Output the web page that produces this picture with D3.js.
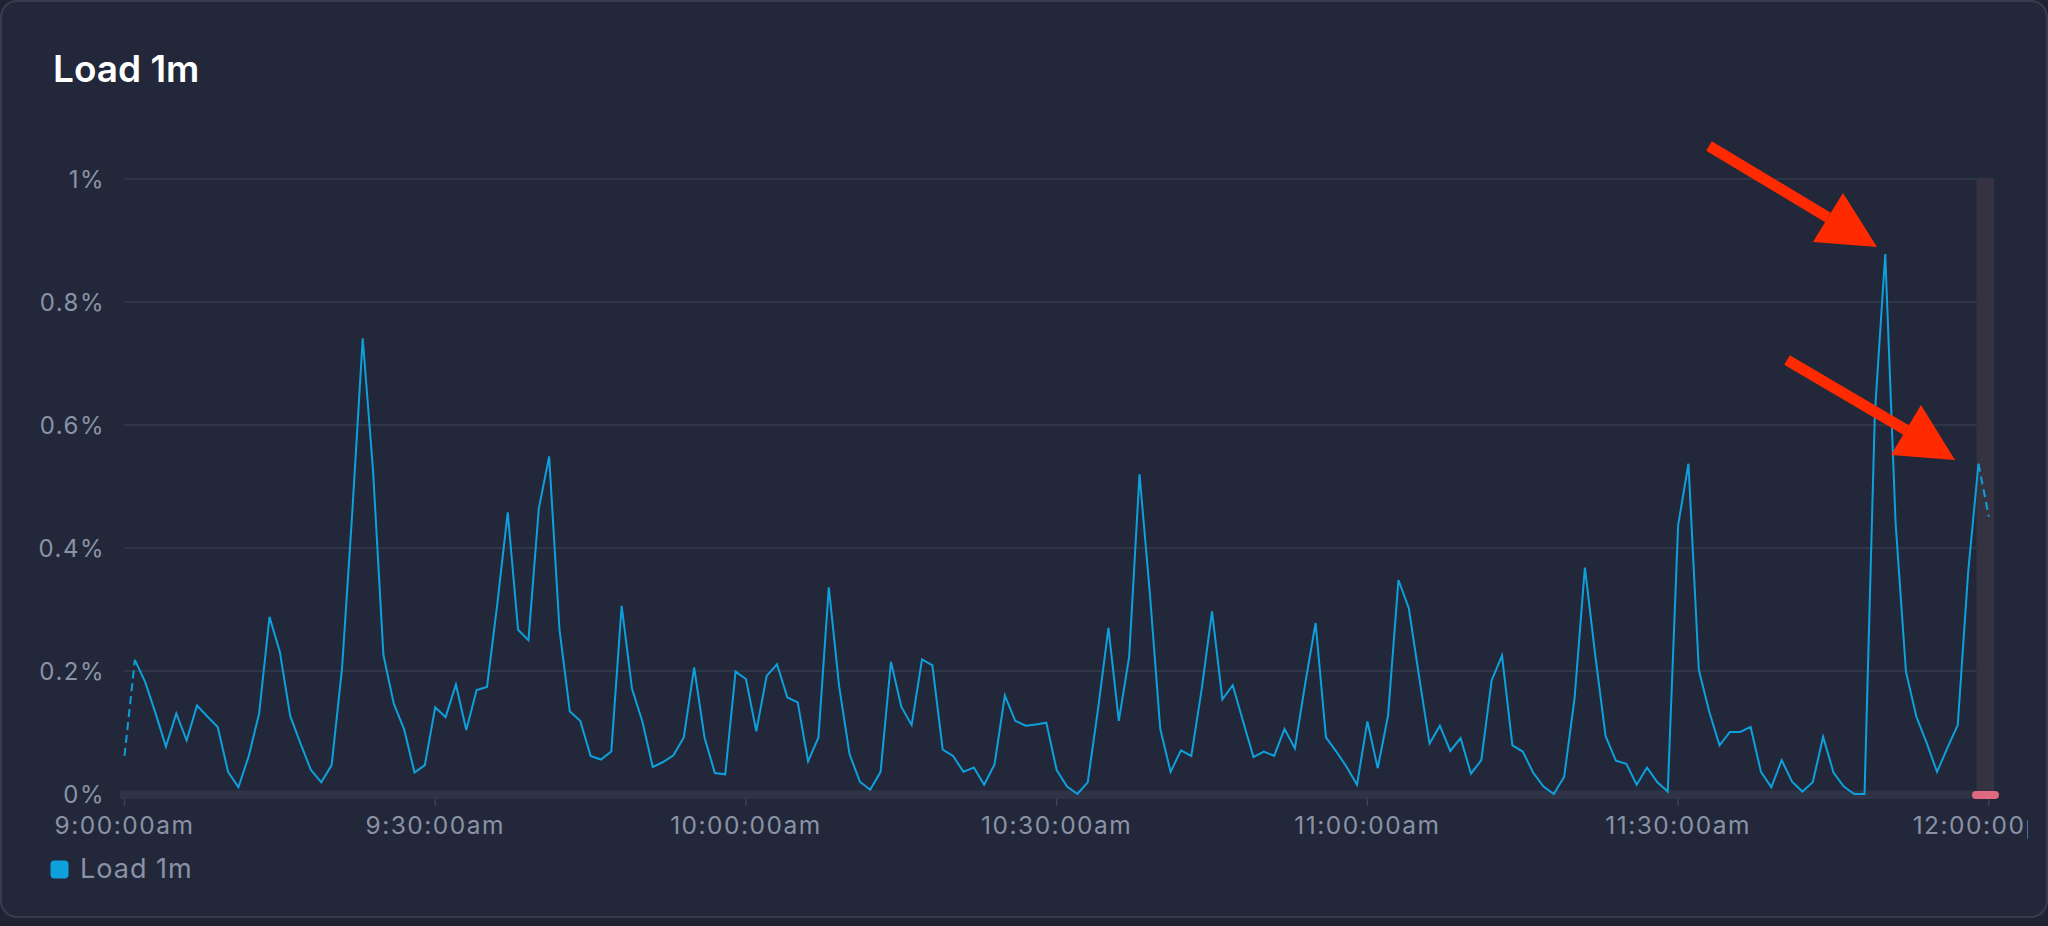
<!DOCTYPE html>
<html>
<head>
<meta charset="utf-8">
<script src="https://cdn.jsdelivr.net/npm/d3@7"></script>
<style>
  html, body { margin: 0; padding: 0; background: #1f2433; }
  svg { display: block; }
  text { font-family: Inter, "Noto Sans", sans-serif; }
</style>
</head>
<body>
<svg id="chart" width="2048" height="926"></svg>
<script>
// ---- Data ----
const title = "Load 1m";
const seriesName = "Load 1m";
const startTime = "09:00";
// Load 1m (%), one sample per minute from 9:01 to 11:59
const loadValues = [
  0.218, 0.182, 0.131, 0.077, 0.131, 0.087, 0.144, 0.126, 0.109, 0.036,
  0.011, 0.062, 0.131, 0.288, 0.231, 0.127, 0.082, 0.039, 0.019, 0.047,
  0.204, 0.46, 0.741, 0.525, 0.226, 0.147, 0.105, 0.035, 0.047, 0.141,
  0.125, 0.178, 0.104, 0.169, 0.174, 0.31, 0.458, 0.267, 0.250, 0.464,
  0.549, 0.267, 0.134, 0.119, 0.062, 0.056, 0.069, 0.306, 0.171, 0.118,
  0.044, 0.052, 0.063, 0.092, 0.206, 0.092, 0.034, 0.032, 0.199, 0.187,
  0.102, 0.192, 0.211, 0.157, 0.149, 0.053, 0.092, 0.336, 0.175, 0.065,
  0.020, 0.007, 0.036, 0.215, 0.142, 0.112, 0.219, 0.209, 0.072, 0.062,
  0.036, 0.043, 0.015, 0.048, 0.160, 0.119, 0.111, 0.113, 0.116, 0.039,
  0.012, 0.000, 0.019, 0.139, 0.270, 0.119, 0.223, 0.520, 0.326, 0.106,
  0.036, 0.071, 0.062, 0.17, 0.297, 0.154, 0.177, 0.118, 0.060, 0.069,
  0.062, 0.106, 0.074, 0.18, 0.278, 0.092, 0.069, 0.044, 0.015, 0.118,
  0.042, 0.128, 0.348, 0.302, 0.19, 0.082, 0.111, 0.070, 0.091, 0.033,
  0.055, 0.185, 0.225, 0.079, 0.069, 0.035, 0.012, 0.000, 0.028, 0.155,
  0.368, 0.226, 0.094, 0.054, 0.049, 0.015, 0.043, 0.019, 0.004, 0.437,
  0.537, 0.202, 0.134, 0.079, 0.101, 0.101, 0.109, 0.036, 0.011, 0.055,
  0.020, 0.004, 0.019, 0.093, 0.035, 0.012, 0.000, 0.000, 0.62, 0.878,
  0.44, 0.199, 0.126, 0.083, 0.036, 0.075, 0.112, 0.36, 0.537
];
// extrapolated (dashed) edge values
const edgeStart = { time: "09:00:00", value: 0.062 };
const edgeEnd = { time: "12:00:00", value: 0.451 };
const yTicks = [0, 0.2, 0.4, 0.6, 0.8, 1];
const xTickTimes = ["09:00", "09:30", "10:00", "10:30", "11:00", "11:30", "12:00"];
const domainTimes = ["09:00:00", "12:00:30"];

// ---- Setup ----
const parse = d3.timeParse("%H:%M:%S");
const parseHM = d3.timeParse("%H:%M");
const t0 = parseHM(startTime);
const points = loadValues.map((v, i) => ({ t: d3.timeMinute.offset(t0, i + 1), v }));
const dashStart = [{ t: parse(edgeStart.time), v: edgeStart.value }, points[0]];
const dashEnd = [points[points.length - 1], { t: parse(edgeEnd.time), v: edgeEnd.value }];

const W = 2048, H = 926;
const svg = d3.select("#chart");
const plotL = 124.5, plotR = 1994, plotT = 179, plotB = 794;

// card
svg.append("rect").attr("x", 1).attr("y", 1).attr("width", W - 2).attr("height", 916)
  .attr("rx", 16).attr("fill", "#222839").attr("stroke", "#363d4f").attr("stroke-width", 2);

svg.append("text").attr("x", 53).attr("y", 82).attr("fill", "#ffffff")
  .attr("font-size", 37).attr("font-weight", 600).text(title);

const x = d3.scaleTime().domain(domainTimes.map(d => parse(d))).range([plotL, plotR]);
const y = d3.scaleLinear().domain([0, 1]).range([plotB, plotT]);

// grid
svg.append("g").selectAll("line").data(yTicks.filter(d => d > 0)).join("line")
  .attr("x1", plotL).attr("x2", plotR).attr("y1", d => y(d)).attr("y2", d => y(d))
  .attr("stroke", "#343b4e").attr("stroke-width", 1.5);

// highlight band
const bandStart = points[points.length - 1].t;
svg.append("rect").attr("x", x(bandStart) - 2).attr("y", plotT)
  .attr("width", plotR - x(bandStart) + 2).attr("height", 799 - plotT)
  .attr("fill", "#353341");

// bottom bar
svg.append("rect").attr("x", 120).attr("y", 790.5).attr("width", plotR - 120).attr("height", 8.5)
  .attr("fill", "#2e3446");

// y labels
const yFmt = d => (d === 0 ? "0" : d === 1 ? "1" : d3.format(".1f")(d)) + "%";
svg.append("g").selectAll("text").data(yTicks).join("text")
  .attr("x", 105).attr("y", d => y(d) + 8.5).attr("text-anchor", "end")
  .attr("fill", "#8a92a6").attr("font-size", 24).attr("letter-spacing", 1.5)
  .text(yFmt);

// x axis
const defs = svg.append("defs");
defs.append("clipPath").attr("id", "xclip").append("rect")
  .attr("x", 0).attr("y", 780).attr("width", 2028).attr("height", 80);
const xTicks = xTickTimes.map(s => parseHM(s));
const xFmt = d => d3.timeFormat("%-I:%M:%S")(d) + d3.timeFormat("%p")(d).toLowerCase();
const xg = svg.append("g").attr("clip-path", "url(#xclip)");
xg.selectAll("line").data(xTicks).join("line")
  .attr("x1", d => x(d)).attr("x2", d => x(d)).attr("y1", 799).attr("y2", 806)
  .attr("stroke", "#3a4256").attr("stroke-width", 1.5);
xg.selectAll("text").data(xTicks).join("text")
  .attr("x", d => x(d)).attr("y", 834).attr("text-anchor", "middle")
  .attr("fill", "#8a92a6").attr("font-size", 24.5).attr("letter-spacing", 1.5)
  .text(xFmt);

// pill
svg.append("rect").attr("x", 1972).attr("y", 791).attr("width", 27).attr("height", 8)
  .attr("rx", 4).attr("fill", "#df6a7f");

// lines
const lineColor = "#0ea0dc";
const line = d3.line().x(d => x(d.t)).y(d => y(d.v));
svg.append("path").datum(points).attr("d", line).attr("fill", "none")
  .attr("stroke", lineColor).attr("stroke-width", 2).attr("stroke-linejoin", "miter");
[dashStart, dashEnd].forEach(seg => {
  svg.append("path").datum(seg).attr("d", line).attr("fill", "none")
    .attr("stroke", lineColor).attr("stroke-width", 2).attr("stroke-dasharray", "8,5");
});

// legend
svg.append("rect").attr("x", 50.5).attr("y", 860.5).attr("width", 18).attr("height", 18)
  .attr("rx", 4).attr("fill", lineColor);
svg.append("text").attr("x", 80).attr("y", 878).attr("fill", "#8a92a6")
  .attr("font-size", 27).attr("letter-spacing", 1).text(seriesName);

// annotation arrows
const arrows = [
  { from: [1709, 146], tip: [1877, 247], b1: [1843, 193], b2: [1813, 242] },
  { from: [1787, 360], tip: [1955, 460], b1: [1921, 405], b2: [1891, 455] }
];
arrows.forEach(a => {
  const mid = [(a.b1[0] + a.b2[0]) / 2, (a.b1[1] + a.b2[1]) / 2];
  svg.append("line").attr("x1", a.from[0]).attr("y1", a.from[1]).attr("x2", mid[0]).attr("y2", mid[1])
    .attr("stroke", "#ff2a00").attr("stroke-width", 11);
  svg.append("path").attr("d", `M${a.tip}L${a.b1}L${a.b2}Z`).attr("fill", "#ff2a00");
});
</script>
</body>
</html>
